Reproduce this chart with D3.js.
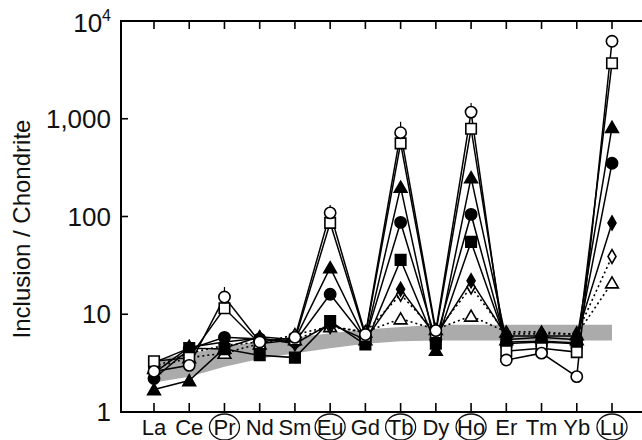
<!DOCTYPE html>
<html><head><meta charset="utf-8">
<script src="https://cdn.jsdelivr.net/npm/d3@7"></script>
<style>
html,body{margin:0;padding:0;background:#fff;}
svg{display:block;font-family:"Liberation Sans",Arial,sans-serif;}
</style></head>
<body>
<svg id="c" width="642" height="440"></svg>
<script>
const elements = ["La","Ce","Pr","Nd","Sm","Eu","Gd","Tb","Dy","Ho","Er","Tm","Yb","Lu"];
const circled = ["Pr","Eu","Tb","Ho","Lu"];
const yTicks = [1,10,100,1000,10000];
const yTickLabels = ["1","10","100","1,000","10^4"];
const yTitle = "Inclusion / Chondrite";

// chondrite-normalised band (lower / upper)
const bandLow  = [2.0,2.3,2.9,3.5,4.0,4.5,5.0,5.3,5.4,5.4,5.4,5.4,5.4,5.4];
const bandHigh = [3.4,4.0,4.6,5.3,5.8,6.4,7.0,7.4,7.8,7.8,7.8,7.8,7.8,7.8];

const openCircle   = [2.6,3.0,15,5.2,5.8,109,6.2,720,6.8,1170,3.4,4.0,2.3,6200];
const openSquare   = [3.3,3.6,11.5,5.0,5.5,86,6.0,560,6.5,790,4.2,4.5,4.1,3700];
const fillTriangle = [1.7,2.1,4.5,5.9,5.5,30,5.5,200,4.3,250,5.5,5.8,5.5,820];
const fillCircle   = [2.2,4.4,5.8,5.6,5.2,16,5.6,87,5.5,105,5.0,5.2,5.0,350];
const fillSquare   = [3.2,4.5,4.4,3.8,3.6,8.5,4.9,36,5.0,55,5.2,5.3,5.1,null];
const fillDiamond  = [2.5,4.6,5.2,5.7,5.0,8.0,5.5,18,6.0,22,6.0,6.0,6.0,86];
const openDiamond  = [2.9,4.0,4.8,5.2,5.5,7.5,6.5,16,6.5,19,6.3,6.3,6.3,39];
const openTriangle = [2.8,3.6,4.0,5.0,6.2,7.5,6.6,9.0,7.0,9.6,6.6,6.6,6.2,21];
const openCircleErrHi = [null,null,19,null,null,131,null,930,null,1450,null,null,null,null];

const series = [
  {v:openTriangle, sym:d3.symbolTriangle, fill:"#fff", size:70, dash:"2,3"},
  {v:openDiamond,  sym:d3.symbolDiamond,  fill:"#fff", size:55, dash:"2,3"},
  {v:fillDiamond,  sym:d3.symbolDiamond,  fill:"#000", size:55, dash:null},
  {v:fillSquare,   sym:d3.symbolSquare,   fill:"#000", size:110, dash:null},
  {v:fillCircle,   sym:d3.symbolCircle,   fill:"#000", size:100, dash:null},
  {v:fillTriangle, sym:d3.symbolTriangle, fill:"#000", size:70, dash:null},
  {v:openSquare,   sym:d3.symbolSquare,   fill:"#fff", size:110, dash:null},
  {v:openCircle,   sym:d3.symbolCircle,   fill:"#fff", size:100, dash:null}
];

const svg = d3.select("#c");
const x = d3.scalePoint().domain(elements).range([154,612]);
const y = d3.scaleLog().domain([1,10000]).range([412,21]);
const pLeft = 121, pRight = 642, pTop = 21, pBottom = 412;

// band
const area = d3.area().x((d,i)=>x(elements[i])).y0((d,i)=>y(bandLow[i])).y1((d,i)=>y(bandHigh[i]));
svg.append("path").datum(bandLow).attr("d",area).attr("fill","#ababab");

// lines
const line = d3.line().defined(d=>d.v!=null).x(d=>x(d.e)).y(d=>y(d.v));
series.forEach(s=>{
  const pts = elements.map((e,i)=>({e, v:s.v[i]}));
  svg.append("path").datum(pts).attr("d",line).attr("fill","none")
     .attr("stroke","#000").attr("stroke-width",s.dash?1.6:1.5)
     .attr("stroke-dasharray",s.dash);
});

// error whiskers on open circles
elements.forEach((e,i)=>{
  if(openCircleErrHi[i]!=null){
    svg.append("line").attr("x1",x(e)).attr("x2",x(e))
      .attr("y1",y(openCircle[i])).attr("y2",y(openCircleErrHi[i]))
      .attr("stroke","#000").attr("stroke-width",1.2);
  }
});

// markers
series.forEach(s=>{
  const sym = d3.symbol().type(s.sym).size(s.size);
  elements.forEach((e,i)=>{
    if(s.v[i]==null) return;
    let dy = 0;
    if(s.sym===d3.symbolTriangle) dy = 1.5;
    svg.append("path").attr("d",sym())
      .attr("transform",`translate(${x(e)},${y(s.v[i])+dy})`)
      .attr("fill",s.fill).attr("stroke","#000").attr("stroke-width",1.6);
  });
});

// axes frame
const ax = svg.append("g").attr("stroke","#000").attr("stroke-width",2).attr("fill","none");
ax.append("line").attr("x1",pLeft).attr("x2",pLeft).attr("y1",pTop-1).attr("y2",pBottom+1);
ax.append("line").attr("x1",pLeft).attr("x2",pRight).attr("y1",pTop).attr("y2",pTop);
ax.append("line").attr("x1",pLeft).attr("x2",pRight).attr("y1",pBottom).attr("y2",pBottom);
elements.forEach(e=>{
  ax.append("line").attr("x1",x(e)).attr("x2",x(e)).attr("y1",pBottom).attr("y2",pBottom-9).attr("stroke-width",1.6);
  ax.append("line").attr("x1",x(e)).attr("x2",x(e)).attr("y1",pTop).attr("y2",pTop+8).attr("stroke-width",1.6);
});
yTicks.forEach(t=>{
  ax.append("line").attr("x1",pLeft).attr("x2",pLeft+7).attr("y1",y(t)).attr("y2",y(t)).attr("stroke-width",1.6);
});

// y tick labels
yTicks.forEach((t,i)=>{
  const lab = yTickLabels[i];
  const tx = svg.append("text").attr("x",111).attr("y",y(t)+9)
    .attr("text-anchor","end").attr("font-size",26).attr("fill","#111");
  if(lab.includes("^")){
    const [b,p] = lab.split("^");
    tx.attr("y",y(t)+11).attr("x",111);
    tx.append("tspan").text(b);
    tx.append("tspan").attr("font-size",16).attr("dy",-11).text(p);
  } else tx.text(lab);
});

// x labels
elements.forEach(e=>{
  svg.append("text").attr("x",x(e)).attr("y",435).attr("text-anchor","middle")
    .attr("font-size",22).attr("fill","#111").text(e);
  if(circled.includes(e)){
    svg.append("ellipse").attr("cx",x(e)).attr("cy",427).attr("rx",15).attr("ry",13)
      .attr("fill","none").attr("stroke","#111").attr("stroke-width",1.3);
  }
});

// y title
svg.append("text").attr("transform","translate(30,229) rotate(-90)")
  .attr("text-anchor","middle").attr("font-size",24).attr("fill","#111").text(yTitle);
</script>
</body></html>
